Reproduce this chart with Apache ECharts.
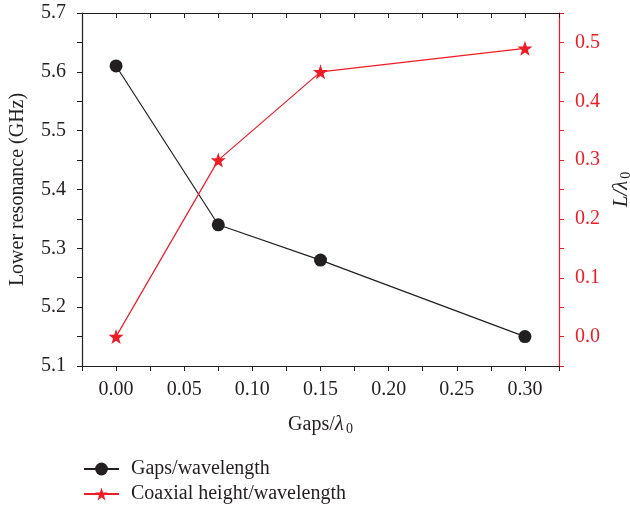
<!DOCTYPE html>
<html>
<head>
<meta charset="utf-8">
<script src="https://cdn.jsdelivr.net/npm/echarts@6/dist/echarts.min.js"></script>
<style>
  html, body { margin: 0; padding: 0; background: #fff; }
  #chart { width: 630px; height: 509px; }
</style>
</head>
<body>
<div id="chart"></div>
<script>
// data
const gaps = [0, 0.075, 0.15, 0.30];
const lowerResonance = [5.61, 5.34, 5.28, 5.15];
const coaxialHeight = [0, 0.30, 0.45, 0.49];

const xLabels = [0, 0.05, 0.10, 0.15, 0.20, 0.25, 0.30];
const xTicks = [-0.025, 0, 0.025, 0.05, 0.075, 0.10, 0.125, 0.15, 0.175, 0.20, 0.225, 0.25, 0.275, 0.30, 0.325];
const leftLabels = [5.1, 5.2, 5.3, 5.4, 5.5, 5.6, 5.7];
const leftTicks = [5.1, 5.15, 5.2, 5.25, 5.3, 5.35, 5.4, 5.45, 5.5, 5.55, 5.6, 5.65, 5.7];
const rightLabels = [0, 0.1, 0.2, 0.3, 0.4, 0.5];
const rightTicks = [-0.05, 0, 0.05, 0.1, 0.15, 0.2, 0.25, 0.3, 0.35, 0.4, 0.45, 0.5, 0.55];

const black = '#231f20';
const red = '#ee1c25';
const font = '"Liberation Serif", "DejaVu Serif", serif';

let chart = echarts.init(document.getElementById('chart'));

let option = {
    animation: false,
    textStyle: { fontFamily: font },
    grid: { left: 82, right: 71, top: 13, bottom: 143, outerBoundsMode: 'none', containLabel: false },
    legend: {
        orient: 'vertical',
        left: 83,
        top: 459,
        padding: 0,
        itemWidth: 35,
        itemHeight: 16,
        itemGap: 5,
        textStyle: { fontFamily: font, fontSize: 20, color: black, padding: [0, 0, 0, 7] },
        data: ['Gaps/wavelength', 'Coaxial height/wavelength']
    },
    xAxis: [
        {
            type: 'value',
            min: -0.025,
            max: 0.325,
            position: 'bottom',
            splitLine: { show: false },
            axisLine: { onZero: false, lineStyle: { color: black, width: 1.2 } },
            axisTick: { customValues: xTicks, length: 5, lineStyle: { color: black } },
            axisLabel: {
                customValues: xLabels,
                color: black,
                fontSize: 20,
                margin: 14,
                formatter: v => v.toFixed(2)
            },
            name: '{n|Gaps/}{l|λ}{s|0}',
            nameLocation: 'middle',
            nameGap: 47,
            nameTextStyle: {
                rich: {
                    n: { fontFamily: font, fontSize: 20, color: black },
                    l: { fontFamily: font, fontSize: 21, color: black, fontStyle: 'italic' },
                    s: { fontFamily: font, fontSize: 14, color: black, padding: [9, 0, 0, 2] }
                }
            }
        },
        {
            type: 'value',
            min: -0.025,
            max: 0.325,
            position: 'top',
            splitLine: { show: false },
            axisLine: { onZero: false, lineStyle: { color: black, width: 1.2 } },
            axisTick: { customValues: xTicks, inside: true, length: 5, lineStyle: { color: black } },
            axisLabel: { show: false }
        }
    ],
    yAxis: [
        {
            type: 'value',
            min: 5.1,
            max: 5.7,
            position: 'left',
            splitLine: { show: false },
            axisLine: { show: true, onZero: false, lineStyle: { color: black, width: 1.2 } },
            axisTick: { customValues: leftTicks, length: 5, lineStyle: { color: black } },
            axisLabel: {
                customValues: leftLabels,
                color: black,
                fontSize: 20,
                margin: 16,
                formatter: v => v.toFixed(1)
            },
            name: 'Lower resonance (GHz)',
            nameLocation: 'middle',
            nameGap: 54,
            nameTextStyle: { fontFamily: font, fontSize: 20, color: black }
        },
        {
            type: 'value',
            min: -0.05,
            max: 0.55,
            position: 'right',
            splitLine: { show: false },
            axisLine: { show: true, onZero: false, lineStyle: { color: red, width: 1.2 } },
            axisTick: { customValues: rightTicks, length: 5, lineStyle: { color: red } },
            axisLabel: {
                customValues: rightLabels,
                color: red,
                fontSize: 20,
                margin: 16,
                formatter: v => v.toFixed(1)
            },
            name: '{l|L/λ}{s|0}',
            nameLocation: 'middle',
            nameRotate: 90,
            nameGap: 50,
            nameTextStyle: {
                rich: {
                    l: { fontFamily: font, fontSize: 21, color: black, fontStyle: 'italic' },
                    s: { fontFamily: font, fontSize: 14, color: black, padding: [9, 0, 0, 2] }
                }
            }
        }
    ],
    series: [
        {
            name: 'Gaps/wavelength',
            type: 'line',
            xAxisIndex: 0,
            yAxisIndex: 0,
            data: gaps.map((g, i) => [g, lowerResonance[i]]),
            symbol: 'circle',
            symbolSize: 13,
            itemStyle: { color: black },
            lineStyle: { color: black, width: 1.2 }
        },
        {
            name: 'Coaxial height/wavelength',
            type: 'line',
            xAxisIndex: 0,
            yAxisIndex: 1,
            data: gaps.map((g, i) => [g, coaxialHeight[i]]),
            symbol: 'path://M0,-10 L2.35,-3.24 L9.51,-3.09 L3.8,1.24 L5.88,8.09 L0,4 L-5.88,8.09 L-3.8,1.24 L-9.51,-3.09 L-2.35,-3.24 Z',
            symbolSize: 15,
            itemStyle: { color: red },
            lineStyle: { color: red, width: 1.2 }
        }
    ]
};

chart.setOption(option);
</script>
</body>
</html>
